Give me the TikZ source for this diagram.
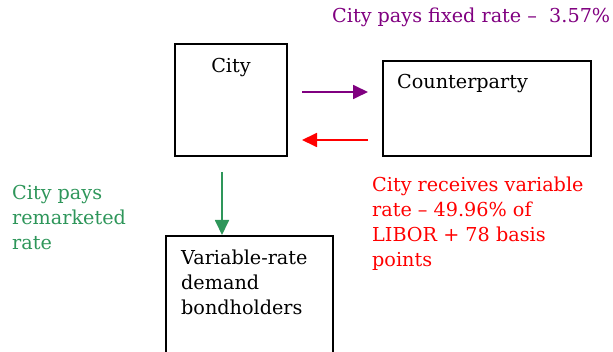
\documentclass[tikz,border=0pt]{standalone}
\usepackage{fontspec}
\setmainfont{DejaVu Serif}
\usetikzlibrary{arrows.meta}
\definecolor{cpurple}{RGB}{128,0,128}
\definecolor{cred}{RGB}{255,0,0}
\definecolor{cgreen}{RGB}{46,150,90}
\tikzset{
  box/.style={draw=black, line width=2pt, inner sep=0pt, fill=none},
  txt/.style={inner sep=0pt, font=\fontsize{19.2}{25}\selectfont, align=left},
  flow/.style={line width=1.8pt, -{Triangle[length=15pt,width=14pt]}},
}
\begin{document}
\begin{tikzpicture}[x=1pt,y=-1pt]
\useasboundingbox (0,0) rectangle (613,352);
\clip (0,0) rectangle (613,352);
% boxes
\node[box, minimum width=112pt, minimum height=112pt] (city) at (231,100) {};
\node[box, minimum width=208pt, minimum height=95pt] (cp) at (487,108.5) {};
\node[box, minimum width=167pt, minimum height=140pt] (bond) at (249.5,306) {};
% box texts
\node[txt, anchor=base] (citytxt) at (231,73) {City};
\node[txt, anchor=base west] (cptxt) at (397,89) {Counterparty};
\node[txt, anchor=base west] (bondtxt) at (181,315) {Variable-rate\\demand\\bondholders};
% coordinates for arrows
\coordinate (pS) at (302,92);
\coordinate (pE) at (368,92);
\coordinate (rS) at (368,140);
\coordinate (rE) at (302,140);
\coordinate (gS) at (222,172);
\draw[flow, cpurple] (pS) -- (pE);
\draw[flow, cred] (rS) -- (rE);
\draw[flow, cgreen] (gS) -- (gS |- bond.north);
% labels
\node[txt, anchor=base west, text=cpurple] (plabel) at (332,23) {City pays fixed rate –\ \ 3.57\%};
\node[txt, anchor=base west, text=cred] (rlabel) at (372,267) {City receives variable\\rate – 49.96\% of\\LIBOR + 78 basis\\points};
\node[txt, anchor=base west, text=cgreen] (glabel) at (12,250) {City pays\\remarketed\\rate};
\end{tikzpicture}
\end{document}
